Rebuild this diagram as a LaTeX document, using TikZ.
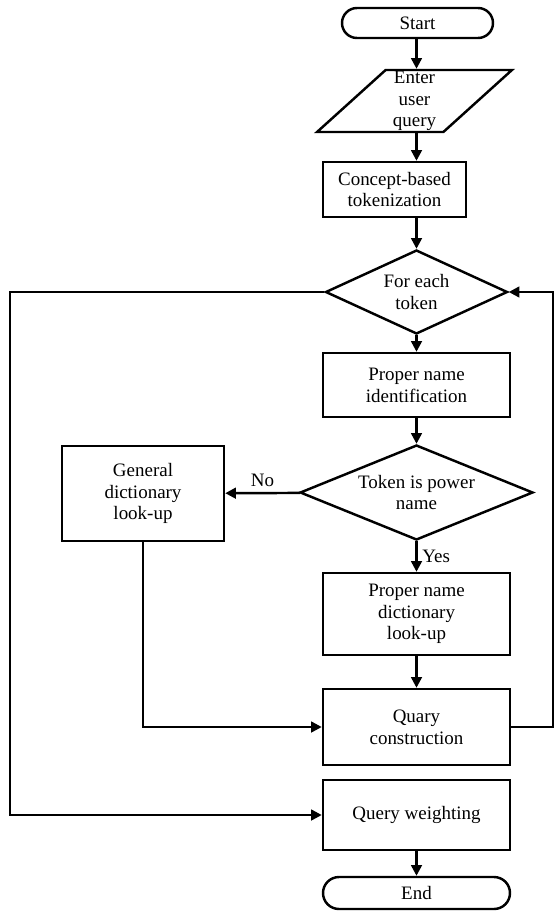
\documentclass[tikz,border=0pt]{standalone}
\usepackage{fontspec}
\setmainfont{Liberation Serif}
\usetikzlibrary{arrows.meta,shapes.geometric}
\tikzset{
  base/.style={draw=black,line width=2.1pt,align=center,font=\fontsize{16.2}{18.6}\selectfont,inner sep=0pt},
  box/.style={base,rectangle,minimum width=5.61cm},
  terminal/.style={base,rectangle,minimum width=5.61cm},
  inout/.style={base,trapezium,trapezium left angle=49.5,trapezium right angle=130.5,trapezium stretches=true},
  decision/.style={base,diamond},
  answer/.style={font=\fontsize{16.2}{18.6}\selectfont,inner sep=4pt},
  flow/.style={-{Triangle[length=.32cm,width=.32cm]},line width=2.1pt}
}

\begin{document}
\begin{tikzpicture}[x=.03cm,y=-.03cm]
  \useasboundingbox (0,0) rectangle (555,913);
  \node[terminal,minimum width=4.53cm,minimum height=.9cm,rounded corners=.45cm] (start) at (417.5,23) {Start};
  \node[inout,minimum width=5.85cm,minimum height=1.86cm] (enter) at (414.5,101) {Enter\\user\\query};
  \node[box,minimum width=4.29cm,minimum height=1.65cm] (concept) at (394.5,189.5) {Concept-based\\tokenization};
  \node[decision,aspect=2.17,minimum width=5.46cm,minimum height=2.52cm] (each) at (416.5,292) {For each\\token};
  \node[box,minimum height=1.92cm] (ident) at (416.5,385) {Proper name\\identification};
  \node[decision,aspect=2.45,minimum width=6.99cm,minimum height=2.85cm] (power) at (416.5,492.5) {Token is power\\name};
  \node[box,minimum width=4.86cm,minimum height=2.85cm] (general) at (143,493.5) {General\\dictionary\\look-up};
  \node[box,minimum height=2.46cm] (dict) at (416.5,614) {Proper name\\dictionary\\look-up};
  \node[box,minimum height=2.28cm] (quary) at (416.5,727) {Quary\\construction};
  \node[box,minimum height=2.1cm] (weight) at (416.5,815) {Query weighting};
  \node[terminal,minimum height=.96cm,rounded corners=.48cm] (finish) at (416.5,893) {End};
  \coordinate (rightx) at (553,0);
  \coordinate (leftx) at (10,0);
  % main column
  \draw[flow] (each.north |- start.south) -- (each.north |- enter.north);
  \draw[flow] (each.north |- enter.south) -- (each.north |- concept.north);
  \draw[flow] (each.north |- concept.south) -- (each.north);
  \draw[flow] (each) -- (ident);
  \draw[flow] (ident) -- (power);
  \draw[flow] (power) -- node[answer,right] {Yes} (dict);
  \draw[flow] (dict) -- (quary);
  \draw[flow] (weight) -- (finish);
  % side branches
  \draw[flow] (power) -- node[answer,above] {No} (general);
  \draw[flow] (general.south) |- (quary.west);
  \draw[flow] (quary.east) -- (quary.east -| rightx) |- (each.east);
  \draw[flow] (each.west) -- (each.west -| leftx) |- (weight.west);
\end{tikzpicture}
\end{document}
